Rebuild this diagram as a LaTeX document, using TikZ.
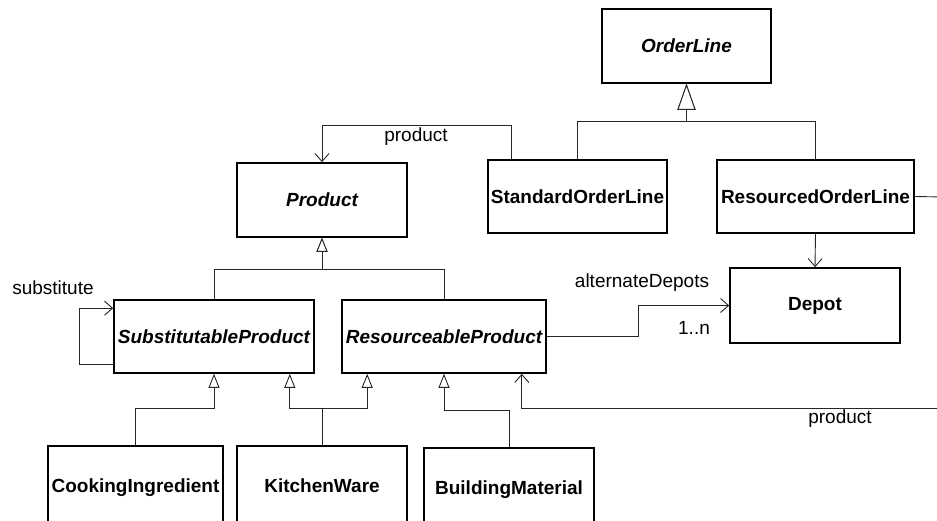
\documentclass[tikz,border=0pt]{standalone}
\usepackage{fontspec}
\setmainfont{Liberation Sans}
\usetikzlibrary{arrows.meta,calc}
\newcommand\diagsize{\fontsize{19}{23}\selectfont}
\begin{document}
\begin{tikzpicture}[x=1pt,y=-1pt,
  cls/.style={draw=black, line width=1.6pt, rectangle, inner sep=0pt, font=\diagsize\bfseries},
  abs/.style={cls, font=\diagsize\bfseries\itshape},
  lbl/.style={inner sep=0pt, font=\diagsize},
  conn/.style={line width=0.9pt, draw=black!85},
  gen/.style={conn, -{Triangle[open, length=14pt, width=11pt, fill=white]}},
  biggen/.style={conn, -{Triangle[open, length=26pt, width=18pt, fill=white]}},
  assoc/.style={conn, -{Straight Barb[length=8pt, width=14pt]}}]
\useasboundingbox (0,0) rectangle (937,520);
\clip (0,0) rectangle (937,520);
% classes
\node[abs, minimum width=169pt, minimum height=74pt] (orderline) at (686.5,46) {OrderLine};
\node[cls, minimum width=179pt, minimum height=73pt] (std) at (577.5,196.5) {StandardOrderLine};
\node[cls, minimum width=197pt, minimum height=73pt] (resol) at (815.5,196.5) {ResourcedOrderLine};
\node[cls, minimum width=170pt, minimum height=75pt] (depot) at (815,305.5) {Depot};
\node[abs, minimum width=170pt, minimum height=74pt] (product) at (322,200) {Product};
\node[abs, minimum width=200pt, minimum height=73pt] (subst) at (214,336.5) {SubstitutableProduct};
\node[abs, minimum width=204pt, minimum height=73pt] (res) at (444,336.5) {ResourceableProduct};
\node[cls, minimum width=175pt, minimum height=84pt] (cook) at (135.5,488) {\raisebox{5pt}{CookingIngredient}};
\node[cls, minimum width=170pt, minimum height=84pt] (kitchen) at (322,488) {\raisebox{5pt}{KitchenWare}};
\node[cls, minimum width=170pt, minimum height=84pt] (build) at (509,490) {\raisebox{5pt}{BuildingMaterial}};
% labels
\node[lbl] (lprod1) at (416,137) {product};
\node[lbl] (lsubst) at (53,288) {substitute};
\node[lbl] (lalt) at (642,283) {alternateDepots};
\node[lbl] (lmult) at (694,328) {1..n};
\node[lbl] (lprod2) at (840,419) {product};
% off-picture ends
\coordinate (offr) at (945,197);
\coordinate (offp) at (945,408);
% generalisations to OrderLine
\draw[biggen] (std.north) -- ++(0,-38) -| (orderline.south);
\draw[biggen] (resol.north) -- ++(0,-38) -| (orderline.south);
% generalisations to Product
\draw[gen] (subst.north) -- ++(0,-30) -| (product.south);
\draw[gen] (res.north) -- ++(0,-30) -| (product.south);
% lower generalisations
\draw[gen] (cook.north) -- ++(0,-37) -| (subst.south);
\draw[conn] (kitchen.north) -- ++(0,-37) coordinate (kj);
\draw[gen] (kj) -| ([xshift=-25pt]subst.south east);
\draw[gen] (kj) -| ([xshift=26pt]res.south west);
\draw[gen] (build.north) -- ++(0,-37) -| (res.south);
% associations
\draw[assoc] ([xshift=-66.5pt]std.north) -- ++(0,-34) -| (product.north);
\draw[assoc] ([yshift=9pt]subst.south west) -- ++(-34,0) |- ([yshift=-9pt]subst.north west);
\draw[assoc] (res.east) -- ++(92,0) |- (depot.west);
\draw[assoc] (resol.south) -- (depot.north);
\draw[conn] (resol.east) -- (offr);
\draw[assoc] (offp) -| ([xshift=-25pt]res.south east);
\end{tikzpicture}
\end{document}
